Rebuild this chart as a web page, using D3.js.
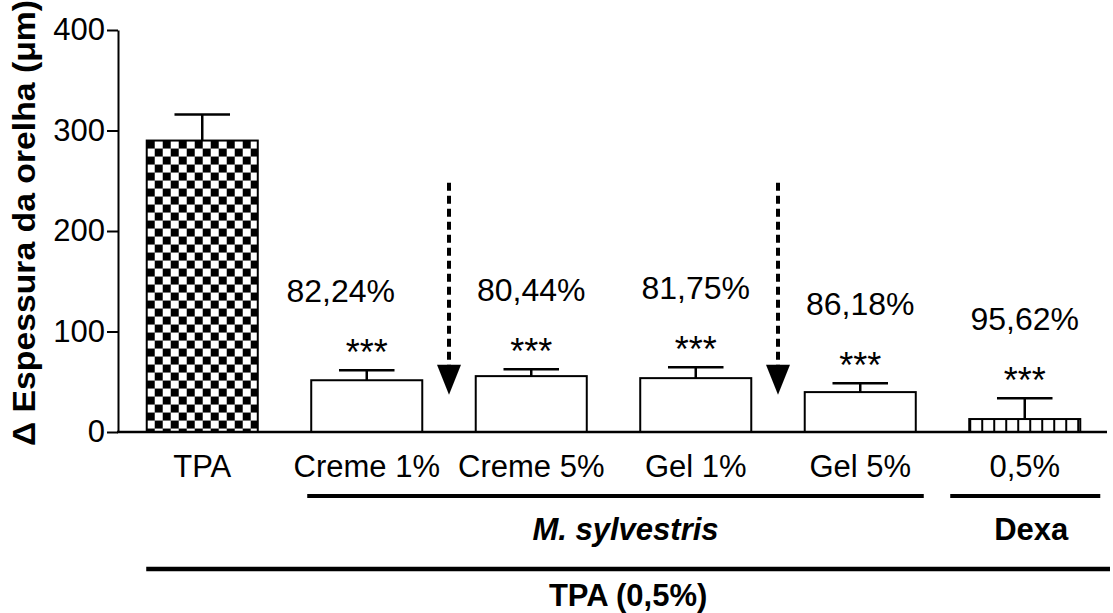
<!DOCTYPE html>
<html>
<head>
<meta charset="utf-8">
<script src="https://cdn.jsdelivr.net/npm/d3@7"></script>
<style>
  html, body { margin: 0; padding: 0; background: #fff; }
  svg { display: block; }
  text { font-family: "Liberation Sans", Arial, Helvetica, sans-serif; fill: #000; }
</style>
</head>
<body>
<svg id="chart" width="1113" height="613"></svg>
<script>
// Ear thickness change (µm) per treatment group, mean ± SEM
const categories = ["TPA", "Creme 1%", "Creme 5%", "Gel 1%", "Gel 5%", "0,5%"];
const means = [290, 51.5, 55.6, 53.6, 39.7, 12.9];
const sems = [26, 10, 6.9, 10.9, 8.9, 20.8];
const inhibition = [null, "82,24%", "80,44%", "81,75%", "86,18%", "95,62%"];
const significance = [null, "***", "***", "***", "***", "***"];
const fills = ["checker", "none", "none", "none", "none", "stripes"];
const yTicks = [0, 100, 200, 300, 400];
const yTitle = "\u0394 Espessura da orelha (\u03bcm)";
// grouping brackets under the axis
const groupLabels = ["M. sylvestris", "Dexa"];
const groupFrom = ["Creme 1%", "0,5%"];
const groupTo = ["Gel 5%", "0,5%"];
const outerLabel = "TPA (0,5%)";
// dashed arrows drawn between these pairs of bars, from/to in µm
const arrowPairs = [["Creme 1%", "Creme 5%"], ["Gel 1%", "Gel 5%"]];
const arrowFrom = 248;
const arrowTo = 37;

const svg = d3.select("#chart");
const FONT = 31;

const x = d3.scaleBand().domain(categories).range([120, 1107]).paddingInner(0.325).paddingOuter(0.1625);
const y = d3.scaleLinear().domain([0, 400]).range([432, 30]);
const bw = x.bandwidth();
const cx = c => x(c) + bw / 2;

// patterns
const defs = svg.append("defs");
const chk = defs.append("pattern").attr("id", "checker").attr("patternUnits", "userSpaceOnUse")
  .attr("x", x("TPA")).attr("y", y(means[0])).attr("width", 16).attr("height", 16);
chk.append("rect").attr("width", 16).attr("height", 16).attr("fill", "#fff");
chk.append("rect").attr("x", 0).attr("y", 0).attr("width", 8).attr("height", 8).attr("fill", "#000");
chk.append("rect").attr("x", 8).attr("y", 8).attr("width", 8).attr("height", 8).attr("fill", "#000");
const str = defs.append("pattern").attr("id", "stripes").attr("patternUnits", "userSpaceOnUse")
  .attr("x", x("0,5%")).attr("y", 0).attr("width", 12).attr("height", 12);
str.append("rect").attr("width", 12).attr("height", 12).attr("fill", "#fff");
str.append("rect").attr("x", 0).attr("width", 2).attr("height", 12).attr("fill", "#000");

// y axis
const yAxis = svg.append("g").attr("transform", "translate(118,0)")
  .call(d3.axisLeft(y).tickValues(yTicks).tickSize(11).tickPadding(2).tickSizeOuter(0));
yAxis.select(".domain").attr("stroke", "#000").attr("stroke-width", 2);
yAxis.selectAll(".tick line").attr("stroke", "#000").attr("stroke-width", 2);
yAxis.selectAll(".tick text").style("font-size", FONT + "px").style("font-family", "Liberation Sans, Arial, sans-serif").attr("fill", "#000");

svg.append("text")
  .attr("transform", "translate(35,446) rotate(-90)")
  .attr("text-anchor", "start")
  .attr("textLength", 446).attr("lengthAdjust", "spacingAndGlyphs")
  .style("font-size", "32px").style("font-weight", "bold")
  .text(yTitle);

// bars
const data = categories.map((c, i) => ({ c, m: means[i], s: sems[i], f: fills[i], p: inhibition[i], sig: significance[i] }));

svg.append("g").selectAll("rect").data(data).join("rect")
  .attr("x", d => x(d.c)).attr("y", d => y(d.m))
  .attr("width", bw).attr("height", d => y(0) - y(d.m))
  .attr("fill", d => d.f === "none" ? "#fff" : `url(#${d.f})`)
  .attr("stroke", "#000").attr("stroke-width", 2);

// error bars (upper half only)
const eb = svg.append("g").attr("stroke", "#000").attr("stroke-width", 2.5);
eb.selectAll("line.v").data(data).join("line").attr("class", "v")
  .attr("x1", d => cx(d.c)).attr("x2", d => cx(d.c))
  .attr("y1", d => y(d.m)).attr("y2", d => y(d.m + d.s));
eb.selectAll("line.h").data(data).join("line").attr("class", "h")
  .attr("x1", d => cx(d.c) - bw / 4).attr("x2", d => cx(d.c) + bw / 4)
  .attr("y1", d => y(d.m + d.s)).attr("y2", d => y(d.m + d.s));

// x axis line
svg.append("line").attr("x1", 117).attr("x2", 1107).attr("y1", y(0)).attr("y2", y(0))
  .attr("stroke", "#000").attr("stroke-width", 2.5);

// significance stars and inhibition percentages
const ann = data.filter(d => d.sig);
svg.append("g").selectAll("text").data(ann).join("text")
  .attr("x", d => cx(d.c)).attr("y", d => y(d.m + d.s) - 5)
  .attr("text-anchor", "middle").style("font-size", "36px")
  .text(d => d.sig);
svg.append("g").selectAll("text").data(ann).join("text")
  .attr("x", (d, i) => cx(d.c) - (i === 0 ? 26 : 0)).attr("y", d => y(d.m + d.s) - 68)
  .attr("text-anchor", "middle").style("font-size", "32px")
  .text(d => d.p);

// dashed arrows
arrowPairs.forEach(([a, b]) => {
  const ax = (x(a) + bw + x(b)) / 2;
  const tip = y(arrowTo);
  svg.append("line").attr("x1", ax).attr("x2", ax).attr("y1", y(arrowFrom)).attr("y2", tip - 26)
    .attr("stroke", "#000").attr("stroke-width", 4).attr("stroke-dasharray", "8,5");
  svg.append("path").attr("d", `M${ax - 12},${tip - 30}L${ax + 12},${tip - 30}L${ax},${tip}Z`).attr("fill", "#000");
});

// category labels
svg.append("g").selectAll("text").data(categories).join("text")
  .attr("x", d => cx(d)).attr("y", 477).attr("text-anchor", "middle")
  .style("font-size", FONT + "px").text(d => d);

// group brackets
const padL = [4, 19], padR = [8, 20], labelDx = [10, 6];
groupLabels.forEach((g, i) => {
  const x1 = x(groupFrom[i]) - padL[i], x2 = x(groupTo[i]) + bw + padR[i];
  svg.append("line").attr("x1", x1).attr("x2", x2).attr("y1", 496).attr("y2", 496)
    .attr("stroke", "#000").attr("stroke-width", 4);
  svg.append("text").attr("x", (x1 + x2) / 2 + labelDx[i]).attr("y", 540).attr("text-anchor", "middle")
    .style("font-size", FONT + "px").style("font-weight", "bold")
    .style("font-style", i === 0 ? "italic" : "normal").text(g);
});
const ox1 = x(categories[0]) - 0.5, ox2 = 1110;
svg.append("line").attr("x1", ox1).attr("x2", ox2).attr("y1", 569).attr("y2", 569)
  .attr("stroke", "#000").attr("stroke-width", 4.5);
svg.append("text").attr("x", (ox1 + ox2) / 2).attr("y", 606).attr("text-anchor", "middle")
  .style("font-size", FONT + "px").style("font-weight", "bold").text(outerLabel);
</script>
</body>
</html>
